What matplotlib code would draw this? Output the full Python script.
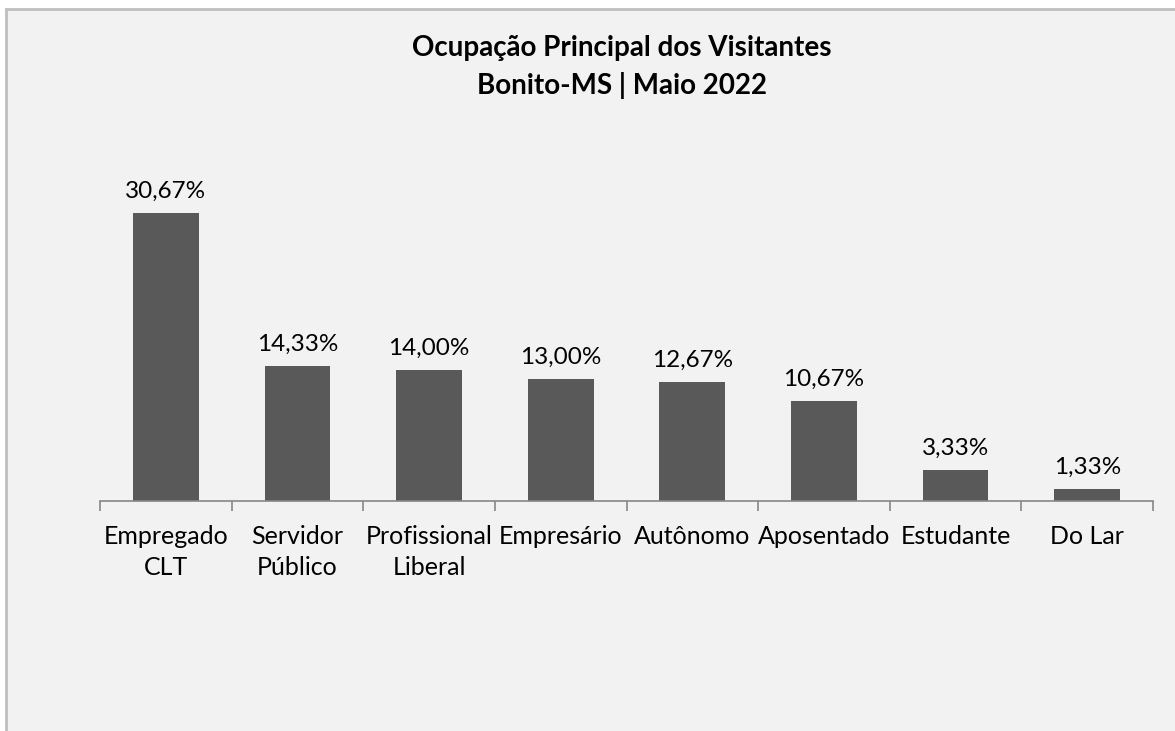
import matplotlib
matplotlib.use("Agg")
import numpy as np
from matplotlib import pyplot as plt
from matplotlib.patches import Rectangle

categories = ["Empregado\nCLT", "Servidor\nPúblico", "Profissional\nLiberal", "Empresário",
              "Autônomo", "Aposentado", "Estudante", "Do Lar"]
values = [30.67, 14.33, 14.00, 13.00, 12.67, 10.67, 3.33, 1.33]
title = "Ocupação Principal dos Visitantes\nBonito-MS | Maio 2022"

plt.rcParams["font.family"] = ["Lato", "DejaVu Sans"]

W, H = 1175, 731
fig = plt.figure(figsize=(W / 100, H / 100), dpi=100, facecolor="white")

# chart area panel (cropped on the right and bottom like the screenshot)
panel = Rectangle((6 / W, -0.1), 1.2, (H - 9) / H + 0.1, transform=fig.transFigure,
                  facecolor="#f2f2f2", edgecolor="#bfbfbf", linewidth=2, zorder=-5)
fig.patches.append(panel)

ax = fig.add_axes([100 / W, (H - 501) / H, 1053 / W, 375.6 / H])
ax.set_zorder(2)
ax.set_facecolor("none")

x = np.arange(len(categories))
bars = ax.bar(x, values, width=0.5, color="#595959", zorder=2)

for xi, v in zip(x, values):
    ax.annotate(f"{v:.2f}%".replace(".", ","), (xi, v), xytext=(0, 8),
                textcoords="offset points", ha="center", va="bottom",
                fontsize=17.5, color="black")

ax.set_xlim(-0.5, len(categories) - 0.5)
ax.set_ylim(0, 40)

ax.set_xticks(np.arange(-0.5, len(categories), 1.0))
ax.set_xticklabels([])
ax.tick_params(axis="x", which="major", length=7, color="#868686", width=1.2, direction="out")
ax.set_xticks(x, minor=True)
ax.set_xticklabels(categories, minor=True, fontsize=18, linespacing=1.45)
ax.tick_params(axis="x", which="minor", length=0, pad=17)

ax.set_yticks([])
for s in ["top", "right", "left"]:
    ax.spines[s].set_visible(False)
ax.spines["bottom"].set_color("#868686")
ax.spines["bottom"].set_linewidth(1.2)

fig.text(622 / W, 1 - 67 / H, title, ha="center", va="center", fontsize=20,
         fontweight="bold", linespacing=1.5)

fig.savefig("out.png", dpi=100, facecolor="white")
